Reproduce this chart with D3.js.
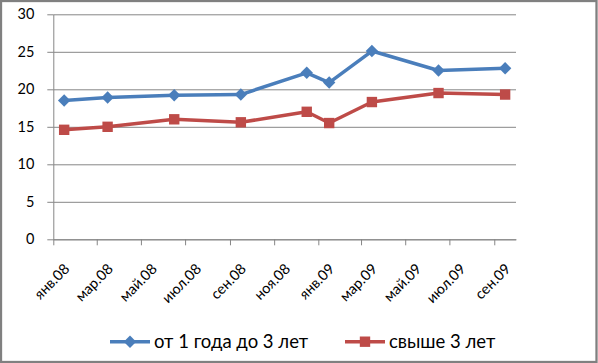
<!DOCTYPE html>
<html><head>
<meta charset="utf-8">
<script src="https://d3js.org/d3.v7.min.js"></script>
<style>
  body { margin: 0; background: #fff; }
  svg text { font-family: Lato, "Liberation Sans", sans-serif; fill: #000; }
  .grid line { stroke: #868686; }
  .grid .domain { stroke: none; }
</style>
</head>
<body>
<svg id="chart" width="598" height="363"></svg>
<script>

// data
const months = ["2008-01", "2008-03", "2008-06", "2008-09", "2008-12", "2009-01", "2009-03", "2009-06", "2009-09"];
const oneToThree = [18.5, 18.9, 19.2, 19.3, 22.2, 20.9, 25.1, 22.5, 22.8];
const overThree  = [14.6, 15.0, 16.0, 15.6, 17.0, 15.5, 18.3, 19.5, 19.3];
const seriesNames = ["от 1 года до 3 лет", "свыше 3 лет"];
const monthNames = ["янв", "фев", "мар", "апр", "май", "июн", "июл", "авг", "сен", "окт", "ноя", "дек"];
const yTicks = [0, 5, 10, 15, 20, 25, 30];

const svg = d3.select("#chart");
const margin = {top: 14.3, left: 53.3, right: 82, bottom: 123.7};
const width = +svg.attr("width");
const height = +svg.attr("height");

// outer frame
svg.append("rect")
  .attr("x", 1).attr("y", 1)
  .attr("width", width - 2.5).attr("height", height - 2)
  .attr("fill", "none").attr("stroke", "#808080").attr("stroke-width", 2.3);

// Excel date axis: each point sits in the middle of its month
const parse = d3.timeParse("%Y-%m-%d");
const dates = months.map(m => parse(m + "-16"));

const x = d3.scaleTime()
  .domain([new Date(2008, 0, 1), new Date(2009, 9, 1)])
  .range([margin.left, width - margin.right]);

const y = d3.scaleLinear()
  .domain([0, 30])
  .range([height - margin.bottom, margin.top]);

// gridlines
svg.append("g")
  .attr("class", "grid")
  .attr("transform", "translate(" + margin.left + ",0)")
  .call(d3.axisLeft(y).tickValues(yTicks).tickSize(-(x.range()[1] - margin.left)).tickFormat(""));

// y axis
const yAxis = svg.append("g")
  .attr("transform", "translate(" + margin.left + ",0)")
  .call(d3.axisLeft(y).tickValues(yTicks).tickSize(6).tickSizeOuter(0).tickPadding(13));
yAxis.select(".domain").attr("stroke", "#868686");
yAxis.selectAll(".tick line").attr("stroke", "#868686");
yAxis.selectAll("text").style("font-size", "14.5px");

// x axis
const fmt = d => monthNames[d.getMonth()] + "." + d3.timeFormat("%y")(d);
const xAxis = svg.append("g")
  .attr("transform", "translate(0," + y(0) + ")")
  .call(d3.axisBottom(x).ticks(d3.timeMonth.every(2)).tickFormat(fmt).tickSize(6).tickSizeOuter(0));
xAxis.select(".domain").attr("stroke", "#868686");
xAxis.selectAll(".tick line").attr("stroke", "#868686");
xAxis.selectAll("text")
  .style("font-size", "14.5px")
  .attr("text-anchor", "end")
  .attr("y", 0).attr("dy", "0.35em")
  .attr("transform", "translate(13,27) rotate(-45)");

// lines and markers
const line = d3.line().x((d, i) => x(dates[i])).y(d => y(d));
const colors = ["#4A7EBB", "#BE4B48"];
const diamond = d3.symbol().type(d3.symbolDiamond2).size(98);
const square = d3.symbol().type(d3.symbolSquare).size(108);
const symbols = [diamond, square];

[oneToThree, overThree].forEach((vals, s) => {
  svg.append("path")
    .datum(vals)
    .attr("d", line)
    .attr("fill", "none")
    .attr("stroke", colors[s])
    .attr("stroke-width", 3.5)
    .attr("stroke-linejoin", "round");

  svg.selectAll(null)
    .data(vals)
    .join("path")
    .attr("d", symbols[s])
    .attr("transform", (d, i) => "translate(" + x(dates[i]) + "," + y(d) + ")")
    .attr("fill", colors[s]);
});

// legend
const legendY = 341.7;
const legendX = [110, 345];
seriesNames.forEach((name, s) => {
  const g = svg.append("g").attr("transform", "translate(" + legendX[s] + "," + legendY + ")");
  g.append("line")
    .attr("x1", 0).attr("x2", 40)
    .attr("stroke", colors[s]).attr("stroke-width", 3.5);
  g.append("path")
    .attr("d", symbols[s])
    .attr("transform", "translate(20,0)")
    .attr("fill", colors[s]);
  g.append("text")
    .attr("x", 44).attr("dy", "0.35em")
    .style("font-size", "18.5px")
    .text(name);
});

</script>
</body>
</html>
